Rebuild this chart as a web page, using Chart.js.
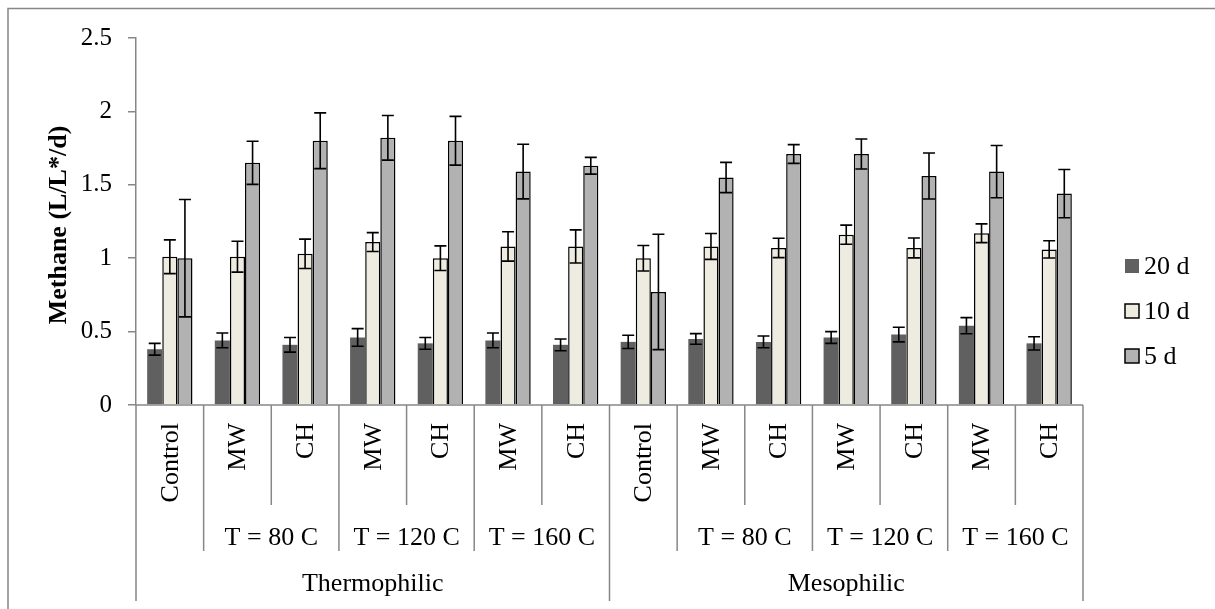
<!DOCTYPE html>
<html>
<head>
<meta charset="utf-8">
<script src="https://cdn.jsdelivr.net/npm/chart.js@4/dist/chart.umd.min.js"></script>
<style>
  body { margin: 0; background: #fff; }
  #wrap { width: 1215px; height: 609px; position: relative; }
</style>
</head>
<body>
<div id="wrap"><canvas id="methaneChart"></canvas></div>
<script>
const categories = ['Control', 'MW', 'CH', 'MW', 'CH', 'MW', 'CH', 'Control', 'MW', 'CH', 'MW', 'CH', 'MW', 'CH'];
const tempLabels = ['', 'T = 80 C', 'T = 120 C', 'T = 160 C', '', 'T = 80 C', 'T = 120 C', 'T = 160 C'];
const tempSpans = [1, 2, 2, 2, 1, 2, 2, 2];
const phaseLabels = ['Thermophilic', 'Mesophilic'];
const phaseSpans = [7, 7];

const d20 = [0.38, 0.44, 0.41, 0.46, 0.42, 0.44, 0.41, 0.43, 0.45, 0.43, 0.46, 0.48, 0.54, 0.42];
const d20Err = [0.04, 0.05, 0.05, 0.06, 0.04, 0.05, 0.04, 0.045, 0.036, 0.04, 0.04, 0.05, 0.055, 0.045];
const d10 = [1.01, 1.01, 1.03, 1.11, 1.0, 1.08, 1.08, 1.0, 1.08, 1.07, 1.16, 1.07, 1.17, 1.06];
const d10Err = [0.115, 0.105, 0.1, 0.064, 0.084, 0.1, 0.113, 0.087, 0.088, 0.066, 0.065, 0.068, 0.064, 0.059];
const d5 = [1.0, 1.65, 1.8, 1.82, 1.8, 1.59, 1.63, 0.77, 1.55, 1.71, 1.71, 1.56, 1.59, 1.44];
const d5Err = [0.4, 0.147, 0.19, 0.152, 0.166, 0.186, 0.057, 0.393, 0.103, 0.064, 0.102, 0.157, 0.178, 0.164];

const yTicks = [0, 0.5, 1, 1.5, 2, 2.5];
const yTickLabels = ['0', '0.5', '1', '1.5', '2', '2.5'];
const seriesNames = ['20 d', '10 d', '5 d'];

const serif = "'Liberation Serif', 'Times New Roman', serif";
const axisGray = '#878787';

const errorBars = {
  id: 'errorBars',
  afterDatasetsDraw(chart) {
    const ctx = chart.ctx;
    const y = chart.scales.y;
    ctx.save();
    ctx.strokeStyle = '#000';
    ctx.lineWidth = 1.6;
    chart.data.datasets.forEach((ds, i) => {
      const meta = chart.getDatasetMeta(i);
      meta.data.forEach((bar, j) => {
        const v = ds.data[j], e = ds.errors[j];
        const top = y.getPixelForValue(v + e);
        const bot = y.getPixelForValue(v - e);
        ctx.beginPath();
        ctx.moveTo(bar.x, top); ctx.lineTo(bar.x, bot);
        ctx.moveTo(bar.x - 6, top); ctx.lineTo(bar.x + 6, top);
        ctx.moveTo(bar.x - 6, bot); ctx.lineTo(bar.x + 6, bot);
        ctx.stroke();
      });
    });
    ctx.restore();
  }
};

const frameAndAxis = {
  id: 'frameAndAxis',
  afterDraw(chart) {
    const ctx = chart.ctx;
    const xs = chart.scales.x;
    const area = chart.chartArea;
    const n = categories.length;
    const step = xs.getPixelForValue(1) - xs.getPixelForValue(0);
    const edge = i => xs.getPixelForValue(0) - step / 2 + i * step;
    const y0 = area.bottom;

    ctx.save();
    // outer frame (top and left visible)
    ctx.strokeStyle = axisGray;
    ctx.lineWidth = 1.5;
    ctx.beginPath();
    ctx.moveTo(8, 609); ctx.lineTo(8, 8.5); ctx.lineTo(1215, 8.5);
    ctx.stroke();

    // x axis line
    ctx.beginPath();
    ctx.moveTo(edge(0), y0); ctx.lineTo(edge(n), y0);
    ctx.stroke();

    // boundaries depth
    const depth = new Array(n + 1).fill(y0 + 100);
    let k = 0;
    tempSpans.forEach(s => { depth[k] = y0 + 146; k += s; });
    depth[k] = y0 + 146;
    k = 0;
    phaseSpans.forEach(s => { depth[k] = y0 + 196; k += s; });
    depth[k] = y0 + 196;
    ctx.beginPath();
    for (let i = 0; i <= n; i++) {
      ctx.moveTo(edge(i), y0); ctx.lineTo(edge(i), depth[i]);
    }
    ctx.stroke();

    // level 1 labels (rotated)
    ctx.fillStyle = '#000';
    ctx.font = '26px ' + serif;
    categories.forEach((lab, i) => {
      ctx.save();
      ctx.translate(xs.getPixelForValue(i), y0 + 18);
      ctx.rotate(-Math.PI / 2);
      ctx.textAlign = 'right';
      ctx.textBaseline = 'middle';
      ctx.fillText(lab, 0, 1);
      ctx.restore();
    });

    // level 2 labels
    ctx.textAlign = 'center';
    ctx.textBaseline = 'middle';
    k = 0;
    tempSpans.forEach((s, g) => {
      const cx = (edge(k) + edge(k + s)) / 2;
      if (tempLabels[g]) ctx.fillText(tempLabels[g], cx, y0 + 133);
      k += s;
    });

    // level 3 labels
    k = 0;
    phaseSpans.forEach((s, g) => {
      const cx = (edge(k) + edge(k + s)) / 2;
      ctx.fillText(phaseLabels[g], cx, y0 + 179);
      k += s;
    });

    // y axis title
    ctx.save();
    ctx.translate(59, 225);
    ctx.rotate(-Math.PI / 2);
    ctx.font = 'bold 26px ' + serif;
    ctx.fillText('Methane (L/L*/d)', 0, 0);
    ctx.restore();

    // legend
    ctx.font = '26px ' + serif;
    ctx.textAlign = 'left';
    chart.data.datasets.forEach((ds, i) => {
      const cy = 266 + i * 45;
      ctx.fillStyle = ds.backgroundColor;
      ctx.fillRect(1125, cy - 7, 14, 14);
      if (ds.borderWidth) {
        ctx.strokeStyle = '#000';
        ctx.lineWidth = 1.5;
        ctx.strokeRect(1125, cy - 7, 14, 14);
      }
      ctx.fillStyle = '#000';
      ctx.fillText(ds.label, 1144, cy + 1);
    });
    ctx.restore();
  }
};

const ctx = document.getElementById('methaneChart').getContext('2d');
const methaneChart = new Chart(ctx, {
  type: 'bar',
  data: {
    labels: categories,
    datasets: [
      { label: seriesNames[0], data: d20, errors: d20Err, backgroundColor: '#606060', borderWidth: 0 },
      { label: seriesNames[1], data: d10, errors: d10Err, backgroundColor: '#EEECE1', borderColor: '#000', borderWidth: 1.5 },
      { label: seriesNames[2], data: d5, errors: d5Err, backgroundColor: '#B2B2B2', borderColor: '#000', borderWidth: 1.5 },
    ],
  },
  options: {
    responsive: true,
    maintainAspectRatio: false,
    animation: false,
    layout: { padding: { top: 38, right: 132, left: 0, bottom: 0 } },
    datasets: { bar: { barPercentage: 1, categoryPercentage: 0.67 } },
    scales: {
      x: {
        grid: { display: false },
        border: { display: false },
        ticks: { display: false },
        afterFit(s) { s.height = 204; },
      },
      y: {
        min: 0,
        max: 2.5,
        afterBuildTicks(s) { s.ticks = yTicks.map(v => ({ value: v })); },
        ticks: {
          font: { family: serif, size: 25 },
          color: '#000',
          padding: 16,
          callback: (value, index) => yTickLabels[index],
        },
        grid: { drawOnChartArea: false, tickLength: 8, color: axisGray, lineWidth: 1.5 },
        border: { color: axisGray, width: 1.5 },
        afterFit(s) { s.width = 136; },
      },
    },
    plugins: {
      legend: { display: false },
      tooltip: { enabled: false },
    },
  },
  plugins: [errorBars, frameAndAxis],
});
</script>
</body>
</html>
